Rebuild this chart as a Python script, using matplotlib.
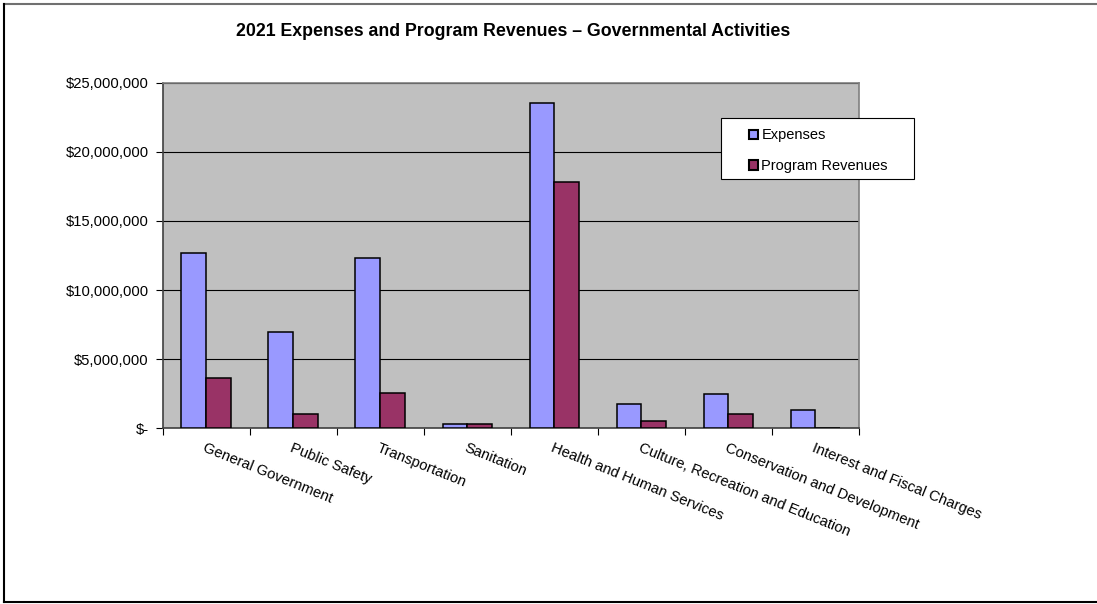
import numpy as np
import matplotlib
matplotlib.use('Agg')
import matplotlib.pyplot as plt
from matplotlib.patches import Rectangle
from matplotlib.lines import Line2D
from matplotlib.ticker import FuncFormatter

# Dados (dólares)
categorias = ['General Government', 'Public Safety', 'Transportation', 'Sanitation',
              'Health and Human Services', 'Culture, Recreation and Education',
              'Conservation and Development', 'Interest and Fiscal Charges']
despesas = [12700000, 6960000, 12340000, 330000, 23550000, 1740000, 2490000, 1300000]
receitas = [3620000, 1010000, 2580000, 320000, 17800000, 530000, 1010000, 0]
yticks = [0, 5000000, 10000000, 15000000, 20000000, 25000000]

plt.rcParams['font.family'] = ['Liberation Sans', 'DejaVu Sans']

W, H = 1097, 604
fig = plt.figure(figsize=(W / 100, H / 100), dpi=100)
ax = fig.add_axes([162.7 / W, 1 - 428.3 / H, (859 - 162.7) / W, (428.3 - 82.7) / H])
ax.set_facecolor('#C0C0C0')

x = np.arange(len(categorias))
larg = 0.285
ax.bar(x - larg / 2, despesas, larg, color='#9999FF', edgecolor='black', linewidth=1.1,
       label='Expenses', zorder=3)
ax.bar(x + larg / 2, receitas, larg, color='#993366', edgecolor='black', linewidth=1.1,
       label='Program Revenues', zorder=3)

ax.set_xlim(-0.5, len(categorias) - 0.5)
ax.set_ylim(0, 25000000)
ax.set_yticks(yticks)
ax.yaxis.set_major_formatter(FuncFormatter(lambda v, p: '$-' if v == 0 else f'${v:,.0f}'))
ax.yaxis.grid(True, color='black', linewidth=0.8, zorder=1)
ax.tick_params(axis='y', labelsize=10.6, length=5, width=0.8, pad=5, colors='black')

# rótulos do eixo x girados
ax.set_xticks(x)
ax.set_xticklabels(categorias, rotation=-22, ha='left', va='top',
                   rotation_mode='anchor', fontsize=10.6)
ax.tick_params(axis='x', length=0, pad=9)
ax.set_xticks(np.arange(len(categorias) + 1) - 0.5, minor=True)
ax.tick_params(axis='x', which='minor', length=5, width=0.8)

for s in ['top', 'right']:
    ax.spines[s].set_color('#808080')
for s in ['left', 'bottom']:
    ax.spines[s].set_color('#404040')
for s in ax.spines.values():
    s.set_linewidth(1.2)

fig.text(513.5 / W, 1 - 32 / H, '2021 Expenses and Program Revenues \u2013 Governmental Activities',
         ha='center', va='center', fontsize=12.8, fontweight='bold')

# caixa da legenda
fig.patches.append(Rectangle((720.5 / W, 1 - 179.3 / H), 193 / W, 61 / H,
                             transform=fig.transFigure, facecolor='white',
                             edgecolor='black', linewidth=0.8, zorder=5))
leg = fig.legend(loc='upper left', bbox_to_anchor=(749 / W, 1 - 128.5 / H), frameon=False,
                 fontsize=10.5, handlelength=0.6, handleheight=0.6, handletextpad=0.25,
                 labelspacing=1.15, borderpad=0, borderaxespad=0)
leg.set_zorder(6)
for h in leg.legend_handles:
    h.set_linewidth(1.5)

# borda da figura (lado direito fora da imagem)
fig.lines.append(Line2D([4 / W, 1.0], [1 - 3.5 / H, 1 - 3.5 / H], transform=fig.transFigure,
                        color='#707070', linewidth=1.5))
fig.lines.append(Line2D([4 / W, 4 / W], [1 - 3.5 / H, 1 - 602 / H], transform=fig.transFigure,
                        color='black', linewidth=1.5))
fig.lines.append(Line2D([4 / W, 1.0], [1 - 602 / H, 1 - 602 / H], transform=fig.transFigure,
                        color='black', linewidth=1.5))

fig.savefig('out.png', dpi=100)
